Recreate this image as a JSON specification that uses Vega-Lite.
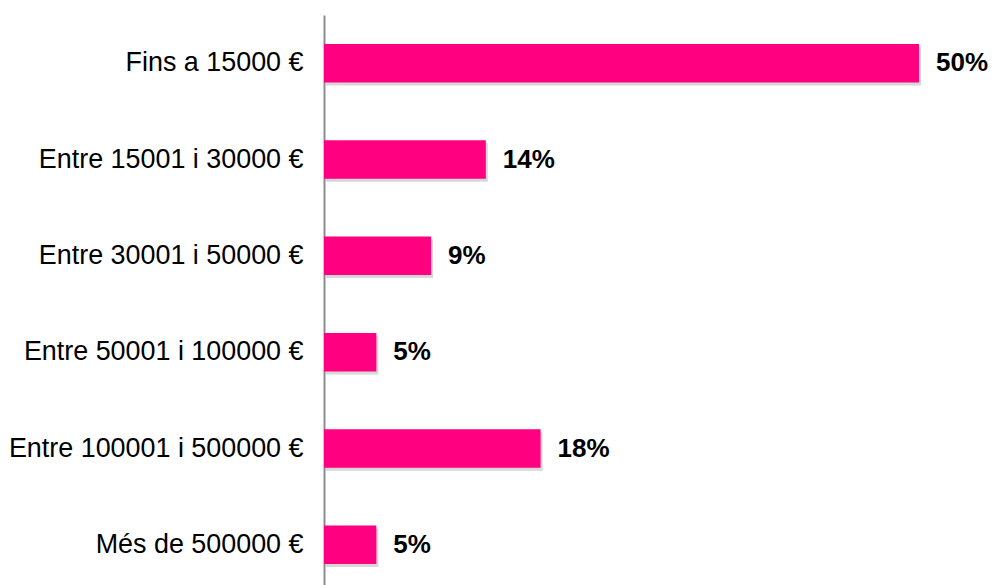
{
  "$schema": "https://vega.github.io/schema/vega-lite/v6.json",
  "autosize": "none",
  "width": 595,
  "height": 578,
  "padding": {"left": 324, "top": 15, "right": 73, "bottom": 0},
  "background": "white",
  "config": {"view": {"stroke": null}, "font": "Liberation Sans"},
  "data": {"values": [
    {"cat": "Fins a 15000 €", "value": 50.0, "label": "50%"},
    {"cat": "Entre 15001 i 30000 €", "value": 13.6, "label": "14%"},
    {"cat": "Entre 30001 i 50000 €", "value": 9.0, "label": "9%"},
    {"cat": "Entre 50001 i 100000 €", "value": 4.4, "label": "5%"},
    {"cat": "Entre 100001 i 500000 €", "value": 18.2, "label": "18%"},
    {"cat": "Més de 500000 €", "value": 4.4, "label": "5%"}
  ]},
  "encoding": {
    "y": {"field": "cat", "type": "nominal", "sort": null,
      "scale": {"paddingInner": 0.6, "paddingOuter": 0.3},
      "axis": {"title": null, "ticks": false, "labelFontSize": 26.9, "labelColor": "#000000", "labelPadding": 21, "domainColor": "#8c8c8c", "domainWidth": 2, "labelFont": "Liberation Sans", "labelLimit": 400}},
    "x": {"field": "value", "type": "quantitative", "scale": {"domain": [0, 50], "nice": false}, "axis": null}
  },
  "layer": [
    {"mark": {"type": "bar", "color": "#7a7a7a", "opacity": 0.3, "xOffset": 2, "yOffset": 3}},
    {"mark": {"type": "bar", "color": "#FF0080"}},
    {"mark": {"type": "text", "align": "left", "dx": 17, "fontSize": 26, "fontWeight": "bold", "color": "#000000", "font": "Liberation Sans"},
     "encoding": {"text": {"field": "label"}}}
  ]
}
